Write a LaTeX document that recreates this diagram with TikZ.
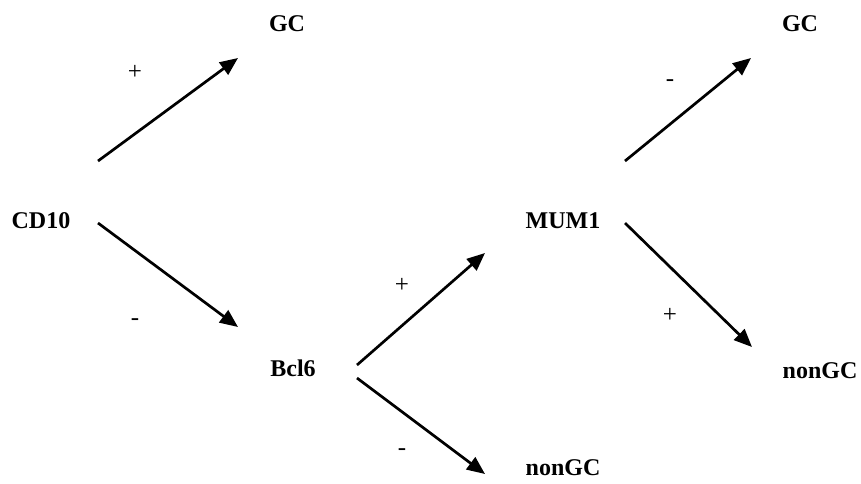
\documentclass[tikz,border=0pt]{standalone}
\usepackage{fontspec}
\setmainfont{Liberation Serif}
\usetikzlibrary{arrows.meta}
\begin{document}
\begin{tikzpicture}[x=.5pt, y=-.5pt, >={Triangle[length=9pt,width=7.5pt]},
	lab/.style={font=\fontsize{12}{14}\selectfont\bfseries, inner sep=0pt},
	sgn/.style={font=\fontsize{12.5}{14}\selectfont, inner sep=0pt},
	arr/.style={->, line width=1.35pt}]
	\useasboundingbox (0,0) rectangle (861,483);
	% nhãn
	\node[lab] (cd) at (41,221) {CD10};
	\node[lab] (gcA) at (287,24) {GC};
	\node[lab] (bcl) at (293,368) {Bcl6};
	\node[lab] (mum) at (563,221) {MUM1};
	\node[lab] (ngA) at (563,468) {nonGC};
	\node[lab] (gcB) at (800,24) {GC};
	\node[lab] (ngB) at (820,371) {nonGC};
	% đầu mút mũi tên
	\coordinate (s1) at (98,161); \coordinate (e1) at (238,58);
	\coordinate (s2) at (98,223); \coordinate (e2) at (238,327);
	\coordinate (s3) at (357,365); \coordinate (e3) at (485,253);
	\coordinate (s4) at (357,378); \coordinate (e4) at (485,474);
	\coordinate (s5) at (625,161); \coordinate (e5) at (751,58);
	\coordinate (s6) at (625,223); \coordinate (e6) at (752,347);
	\foreach \i in {1,...,6}{\draw[arr] (s\i)--(e\i);}
	% dấu
	\node[sgn] (p1) at (135,72) {+};
	\node[sgn] (m1) at (135,322) {-};
	\node[sgn] (p2) at (402,285) {+};
	\node[sgn] (m2) at (402,452) {-};
	\node[sgn] (m3) at (670,83) {-};
	\node[sgn] (p3) at (670,315) {+};
\end{tikzpicture}
\end{document}
